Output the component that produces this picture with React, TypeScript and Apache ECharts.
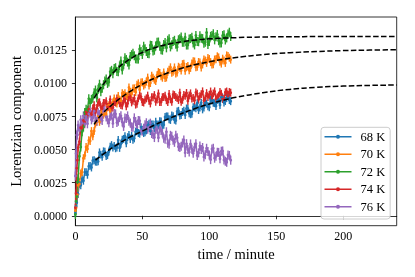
import React, { useEffect, useRef } from 'react';
import * as echarts from 'echarts';

// time axis (minutes) shared by all measured series
const times = [0, 0.5, 1, 1.5, 2, 3, 4, 5, 6, 7, 8, 9, 10, 11, 12, 13, 14, 15, 16, 17, 18, 19, 20, 21, 22, 23, 24, 25, 26, 27, 28, 29, 30, 31, 32, 33, 34, 35, 36, 37, 38, 39, 40, 41, 42, 43, 44, 45, 46, 47, 48, 49, 50, 51, 52, 53, 54, 55, 56, 57, 58, 59, 60, 61, 62, 63, 64, 65, 66, 67, 68, 69, 70, 71, 72, 73, 74, 75, 76, 77, 78, 79, 80, 81, 82, 83, 84, 85, 86, 87, 88, 89, 90, 91, 92, 93, 94, 95, 96, 97, 98, 99, 100, 101, 102, 103, 104, 105, 106, 107, 108, 109, 110, 111, 112, 113, 114, 115, 116];

const k68 = [0.0002, 0.0007, 0.0010, 0.0017, 0.00165, 0.0025, 0.0023, 0.0028, 0.00265, 0.0033, 0.0033, 0.0031, 0.00375,
  0.00377, 0.00365, 0.00418, 0.0042, 0.00409, 0.00408, 0.00411, 0.00479, 0.00462, 0.00445, 0.00487, 0.00484, 0.00451, 0.00458, 0.00485, 0.00522, 0.00534, 0.00516, 0.00528, 0.0051, 0.00516, 0.00572, 0.00513, 0.00544, 0.00575, 0.00581, 0.00602, 0.00548, 0.00594, 0.0061, 0.0058, 0.00605, 0.00575, 0.00585, 0.00635, 0.0065, 0.00625, 0.0062, 0.0067, 0.0065, 0.00625, 0.0063, 0.00645, 0.00685, 0.00695, 0.0064, 0.0069, 0.0069, 0.0066, 0.0071, 0.0069, 0.00684, 0.00714, 0.00713, 0.00683, 0.00687, 0.00747, 0.00751, 0.00751, 0.0073, 0.00724, 0.00758, 0.00752, 0.00726, 0.0072, 0.00789, 0.00793, 0.00757, 0.00761, 0.00785, 0.00794, 0.00762, 0.00811, 0.0081, 0.00774, 0.00767, 0.00771, 0.0082, 0.00819, 0.00812, 0.00851, 0.00799, 0.00817, 0.00855, 0.00804, 0.00817, 0.00855, 0.00848, 0.00827, 0.0082, 0.00878, 0.0087, 0.00853, 0.00851, 0.00829, 0.00876, 0.00879, 0.00837, 0.00895, 0.00892, 0.00855, 0.00867, 0.00889, 0.00906, 0.00874, 0.00866];

const k70 = [0.0004, 0.0006, 0.00145, 0.0016, 0.0023, 0.0024, 0.0032, 0.0033, 0.00435, 0.00455, 0.0052, 0.00505, 0.0057,
  0.00565, 0.0064, 0.0060, 0.0064, 0.00698, 0.0071, 0.00753, 0.0071, 0.00765, 0.00795, 0.00764, 0.00778, 0.00767, 0.00826, 0.00835, 0.00789, 0.00833, 0.00857, 0.00886, 0.0086, 0.00848, 0.00905, 0.00873, 0.0087, 0.00927, 0.00914, 0.00927, 0.00904, 0.00902, 0.00969, 0.00935, 0.00921, 0.00962, 0.00963, 0.00934, 0.0099, 0.01001, 0.00952, 0.01008, 0.01009, 0.00984, 0.00994, 0.01014, 0.01044, 0.00984, 0.01003, 0.01058, 0.01043, 0.01028, 0.01018, 0.01062, 0.01086, 0.0108, 0.01054, 0.01043, 0.01082, 0.01041, 0.01045, 0.01089, 0.01103, 0.01122, 0.0108, 0.01088, 0.01121, 0.01075, 0.01083, 0.01126, 0.01119, 0.01098, 0.01146, 0.01149, 0.01096, 0.01124, 0.01132, 0.0110, 0.01117, 0.0115, 0.01168, 0.01166, 0.01123, 0.01125, 0.01162, 0.01159, 0.01121, 0.01144, 0.01181, 0.01173, 0.01155, 0.01192, 0.01184, 0.01161, 0.01143, 0.01145, 0.01181, 0.01183, 0.01205, 0.01197, 0.01163, 0.0115, 0.01187, 0.01174, 0.01155, 0.01212, 0.01208, 0.01194, 0.0118];

const k72 = [0.0001, 0.0011, 0.00145, 0.00255, 0.0028, 0.0045, 0.0052, 0.00635, 0.0067, 0.0078, 0.00805, 0.00795, 0.00885,
  0.00851, 0.0088, 0.00888, 0.0093, 0.0095, 0.00892, 0.00956, 0.00994, 0.00938, 0.00963, 0.0099, 0.01019, 0.01034, 0.0100, 0.0101, 0.01088, 0.01099, 0.01074, 0.01113, 0.01119, 0.01091, 0.01088, 0.01133, 0.0117, 0.01101, 0.01141, 0.01194, 0.01181, 0.01161, 0.01139, 0.01204, 0.01217, 0.01228, 0.01209, 0.01186, 0.01185, 0.01184, 0.0126, 0.01242, 0.01219, 0.01281, 0.01263, 0.01241, 0.01226, 0.01225, 0.01289, 0.01287, 0.01246, 0.01251, 0.01282, 0.01311, 0.01313, 0.01281, 0.01254, 0.01251, 0.01294, 0.0131, 0.01269, 0.01326, 0.01338, 0.01276, 0.01292, 0.01316, 0.01326, 0.01296, 0.01275, 0.0133, 0.01338, 0.01351, 0.01311, 0.01312, 0.01349, 0.0129, 0.01291, 0.01335, 0.01339, 0.01349, 0.01306, 0.01291, 0.01363, 0.01317, 0.01315, 0.01361, 0.01342, 0.01339, 0.01304, 0.01311, 0.01385, 0.01294, 0.01317, 0.01356, 0.01363, 0.01375, 0.01329, 0.01352, 0.0137, 0.01323, 0.01306, 0.01306, 0.01362, 0.01367, 0.01328, 0.01344, 0.01374, 0.01387, 0.01355];

const k74 = [0.0006, 0.0017, 0.0036, 0.0042, 0.00515, 0.0056, 0.00665, 0.00665, 0.0072, 0.00705, 0.00785, 0.0076, 0.00805,
  0.00778, 0.00765, 0.0081, 0.00835, 0.0078, 0.00815, 0.00854, 0.00858, 0.00822, 0.0081, 0.00852, 0.00853, 0.00865, 0.00821, 0.00823, 0.00879, 0.00816, 0.00817, 0.00859, 0.00855, 0.00887, 0.00878, 0.0085, 0.00836, 0.00833, 0.00869, 0.00881, 0.00827, 0.00849, 0.00895, 0.00896, 0.00857, 0.00868, 0.00889, 0.0084, 0.00846, 0.00887, 0.00908, 0.00899, 0.0086, 0.00856, 0.00876, 0.00887, 0.00908, 0.00869, 0.00849, 0.00895, 0.00896, 0.00912, 0.00862, 0.00878, 0.00924, 0.0086, 0.0086, 0.00896, 0.00897, 0.00908, 0.00873, 0.00859, 0.0092, 0.0088, 0.00861, 0.00917, 0.00912, 0.00898, 0.00889, 0.00875, 0.0093, 0.00861, 0.00876, 0.00912, 0.00907, 0.00928, 0.00868, 0.00909, 0.00925, 0.00885, 0.00891, 0.00872, 0.00932, 0.00923, 0.00878, 0.00904, 0.00919, 0.0094, 0.00871, 0.00886, 0.00927, 0.00898, 0.00913, 0.00939, 0.00889, 0.00925, 0.0094, 0.00885, 0.00895, 0.00906, 0.00936, 0.00922, 0.00882, 0.00883, 0.00933, 0.00939, 0.00904, 0.00935, 0.0093];

const k76 = [0.0030, 0.0047, 0.0061, 0.0061, 0.00685, 0.00645, 0.00725, 0.0070, 0.00755, 0.00695, 0.0075, 0.00695, 0.0077,
  0.00792, 0.00725, 0.00741, 0.0079, 0.00715, 0.00715, 0.00778, 0.00765, 0.00729, 0.0072, 0.00791, 0.00793, 0.00747, 0.00725, 0.00702, 0.00752, 0.00761, 0.00698, 0.00772, 0.0077, 0.00705, 0.00715, 0.00742, 0.00755, 0.00709, 0.00675, 0.00739, 0.00735, 0.00755, 0.00715, 0.00701, 0.0067, 0.00668, 0.0074, 0.00712, 0.0067, 0.0072, 0.00718, 0.00642, 0.0064, 0.00662, 0.00687, 0.00703, 0.00654, 0.00667, 0.0070, 0.00622, 0.00615, 0.00591, 0.00655, 0.00651, 0.0059, 0.00662, 0.00645, 0.00624, 0.00585, 0.00579, 0.00635, 0.00548, 0.0054, 0.00608, 0.0060, 0.0057, 0.00555, 0.00609, 0.0059, 0.00522, 0.00515, 0.00526, 0.0055, 0.00573, 0.00477, 0.00545, 0.0050, 0.00482, 0.00543, 0.00503, 0.00472, 0.00518, 0.00545, 0.00456, 0.00475, 0.00528, 0.0050, 0.00516, 0.00445, 0.00462, 0.0051, 0.00485, 0.0046, 0.00424, 0.00505, 0.0051, 0.00435, 0.00449, 0.0048, 0.00479, 0.0043, 0.00488, 0.0049, 0.00421, 0.00412, 0.00404, 0.00459, 0.00456, 0.0042];

const seriesNames = ['68 K', '70 K', '72 K', '74 K', '76 K'];
const colors = ['#1f77b4', '#ff7f0e', '#2ca02c', '#d62728', '#9467bd'];
const errors = [0.0003, 0.0003, 0.00034, 0.0003, 0.00034];

// fitted curves (time, value)
const fit68 = [[15, 0.0042], [20, 0.0046], [30, 0.0053], [40, 0.0059], [50, 0.0064], [60, 0.0069], [70, 0.00735], [80, 0.00775], [90, 0.00812], [100, 0.00845], [110, 0.00872], [120, 0.00895], [140, 0.0093], [160, 0.00955], [180, 0.0097], [200, 0.0098], [220, 0.00985], [240, 0.00988]];
const fit70 = [[14, 0.0069], [20, 0.0077], [30, 0.0086], [40, 0.00934], [50, 0.00994], [60, 0.01043], [70, 0.01083], [80, 0.01116], [90, 0.01143], [100, 0.01164], [110, 0.01182], [120, 0.01196], [140, 0.01218], [160, 0.01232], [180, 0.01241], [200, 0.01248], [220, 0.01252], [240, 0.01255]];
const fit72 = [[14, 0.00888], [20, 0.00983], [30, 0.01099], [40, 0.01179], [50, 0.01234], [60, 0.01272], [70, 0.01298], [80, 0.01316], [90, 0.01328], [100, 0.01337], [120, 0.01346], [140, 0.01351], [160, 0.01353], [180, 0.01354], [200, 0.01355], [240, 0.01355]];

const xTicks = [0, 50, 100, 150, 200];
const yTicks = [0, 0.0025, 0.005, 0.0075, 0.01, 0.0125];

const FONT = 'Liberation Serif';

export default function App() {
  const ref = useRef<HTMLDivElement>(null);
  useEffect(() => {
    if (!ref.current) return;
    const chart = echarts.init(ref.current, null, { renderer: 'svg' });
    const values = [k68, k70, k72, k74, k76];
    const series: any[] = [];
    values.forEach((vals, i) => {
      const color = colors[i];
      const pts = times.map((t, j) => [t, vals[j]]).filter((p) => typeof p[1] === 'number');
      series.push({
        type: 'custom',
        name: seriesNames[i] + ' err',
        silent: true,
        z: 2,
        encode: { x: 0, y: [1, 2] },
        data: pts.map((p) => [p[0], p[1] - errors[i], p[1] + errors[i]]),
        renderItem: (params: any, api: any) => {
          const x = api.value(0);
          const lo = api.coord([x, api.value(1)]);
          const hi = api.coord([x, api.value(2)]);
          return {
            type: 'line',
            shape: { x1: lo[0], y1: lo[1], x2: hi[0], y2: hi[1] },
            style: { stroke: color, lineWidth: 1.4 },
          };
        },
      });
      series.push({
        type: 'line',
        name: seriesNames[i],
        data: pts,
        symbol: 'circle',
        symbolSize: 2.8,
        showSymbol: true,
        showAllSymbol: true,
        z: 2,
        lineStyle: { color, width: 1.5 },
        itemStyle: { color, borderWidth: 0 },
        emphasis: { disabled: true },
      });
    });
    [fit68, fit70, fit72].forEach((f, i) => {
      series.push({
        type: 'line',
        name: 'fit' + i,
        data: f,
        smooth: true,
        symbol: 'none',
        showSymbol: false,
        silent: true,
        z: 4,
        lineStyle: { color: '#000', width: 1.5, type: [5.5, 2.4] },
      });
    });

    chart.setOption({
      animation: false,
      textStyle: { fontFamily: FONT },
      grid: {
        left: 74.5,
        right: 18.3,
        top: 17,
        bottom: 51.3,
        show: true,
        borderColor: '#000',
        borderWidth: 0.8,
        backgroundColor: 'transparent',
      },
      legend: {
        data: seriesNames,
        orient: 'vertical',
        left: 321,
        top: 127.3,
        itemWidth: 27,
        itemHeight: 13,
        itemGap: 4.5,
        padding: [3, 5, 5.7, 3.5],
        icon: 'path://M0,1.3H27V2.7H0Z M11.5,2A2,2,0,1,1,15.5,2A2,2,0,1,1,11.5,2Z',
        itemStyle: { borderWidth: 0 },
        borderColor: '#cccccc',
        borderWidth: 1,
        borderRadius: 3,
        backgroundColor: 'rgba(255,255,255,0.8)',
        selectedMode: false,
        textStyle: { fontFamily: FONT, fontSize: 12.5, color: '#000', padding: [0, 0, 0, 4], lineHeight: 13 },
      },
      xAxis: {
        type: 'value',
        min: 0,
        max: 240,
        name: 'time / minute',
        nameLocation: 'middle',
        nameGap: 19,
        nameTextStyle: { fontFamily: FONT, fontSize: 14.5, color: '#000' },
        axisLine: { show: true, lineStyle: { color: '#000', width: 0.8 } },
        axisTick: { show: true, length: 3.5, lineStyle: { color: '#000', width: 0.8 }, customValues: xTicks },
        axisLabel: { fontFamily: FONT, fontSize: 12, color: '#000', margin: 4, customValues: xTicks },
        splitLine: { show: false },
      },
      yAxis: {
        type: 'value',
        min: -0.00075,
        max: 0.01502,
        name: 'Lorentzian component',
        nameLocation: 'middle',
        nameRotate: 90,
        nameGap: 46,
        nameTextStyle: { fontFamily: FONT, fontSize: 14.5, color: '#000' },
        axisLine: { show: true, lineStyle: { color: '#000', width: 0.8 } },
        axisTick: { show: true, length: 3.5, lineStyle: { color: '#000', width: 0.8 }, customValues: yTicks },
        axisLabel: {
          fontFamily: FONT,
          fontSize: 12,
          color: '#000',
          margin: 8.5,
          customValues: yTicks,
          formatter: (v: number) => v.toFixed(4),
        },
        splitLine: { show: false },
      },
      series,
    });
    return () => chart.dispose();
  }, []);
  return <div ref={ref} style={{ position: 'fixed', left: 0, top: 0, width: 415, height: 277 }} />;
}
